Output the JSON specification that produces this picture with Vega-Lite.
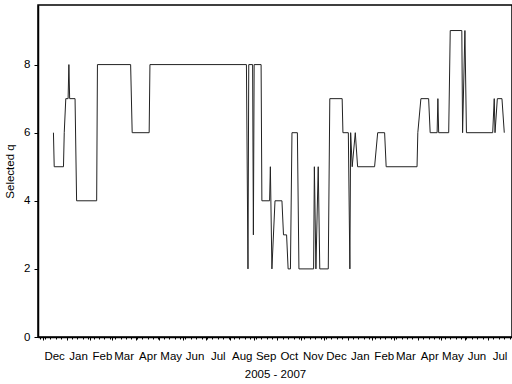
{
  "$schema": "https://vega.github.io/schema/vega-lite/v6.json",
  "width": 474,
  "height": 332,
  "autosize": {"type": "none"},
  "padding": {"left": 38, "top": 5, "right": 0, "bottom": 47},
  "background": "white",
  "config": {
    "view": {"stroke": "black", "strokeWidth": 1.5},
    "font": "Liberation Sans",
    "axis": {
      "labelFont": "Liberation Sans",
      "titleFont": "Liberation Sans",
      "labelColor": "black",
      "titleColor": "black",
      "labelFontSize": 11.5,
      "titleFontSize": 11.5,
      "titleFontWeight": "normal",
      "domainColor": "black",
      "tickColor": "black",
      "grid": false
    }
  },
  "data": {
    "values": [
      {"date": "2005-12-15", "q": 6},
      {"date": "2005-12-16", "q": 5},
      {"date": "2005-12-28", "q": 5},
      {"date": "2005-12-29", "q": 6},
      {"date": "2005-12-31", "q": 7},
      {"date": "2006-01-03", "q": 7},
      {"date": "2006-01-04", "q": 8},
      {"date": "2006-01-05", "q": 7},
      {"date": "2006-01-12", "q": 7},
      {"date": "2006-01-14", "q": 4},
      {"date": "2006-02-09", "q": 4},
      {"date": "2006-02-10", "q": 8},
      {"date": "2006-03-25", "q": 8},
      {"date": "2006-03-27", "q": 6},
      {"date": "2006-04-18", "q": 6},
      {"date": "2006-04-19", "q": 8},
      {"date": "2006-08-22", "q": 8},
      {"date": "2006-08-24", "q": 2},
      {"date": "2006-08-25", "q": 8},
      {"date": "2006-08-30", "q": 8},
      {"date": "2006-08-31", "q": 3},
      {"date": "2006-09-01", "q": 8},
      {"date": "2006-09-10", "q": 8},
      {"date": "2006-09-11", "q": 4},
      {"date": "2006-09-21", "q": 4},
      {"date": "2006-09-22", "q": 5},
      {"date": "2006-09-24", "q": 2},
      {"date": "2006-09-28", "q": 4},
      {"date": "2006-10-07", "q": 4},
      {"date": "2006-10-09", "q": 3},
      {"date": "2006-10-13", "q": 3},
      {"date": "2006-10-15", "q": 2},
      {"date": "2006-10-18", "q": 2},
      {"date": "2006-10-20", "q": 6},
      {"date": "2006-10-27", "q": 6},
      {"date": "2006-10-29", "q": 2},
      {"date": "2006-11-17", "q": 2},
      {"date": "2006-11-18", "q": 5},
      {"date": "2006-11-20", "q": 2},
      {"date": "2006-11-23", "q": 5},
      {"date": "2006-11-25", "q": 2},
      {"date": "2006-12-06", "q": 2},
      {"date": "2006-12-08", "q": 7},
      {"date": "2006-12-24", "q": 7},
      {"date": "2006-12-25", "q": 6},
      {"date": "2007-01-01", "q": 6},
      {"date": "2007-01-03", "q": 2},
      {"date": "2007-01-04", "q": 6},
      {"date": "2007-01-06", "q": 5},
      {"date": "2007-01-10", "q": 6},
      {"date": "2007-01-13", "q": 5},
      {"date": "2007-02-04", "q": 5},
      {"date": "2007-02-08", "q": 6},
      {"date": "2007-02-17", "q": 6},
      {"date": "2007-02-19", "q": 5},
      {"date": "2007-03-31", "q": 5},
      {"date": "2007-04-01", "q": 6},
      {"date": "2007-04-05", "q": 7},
      {"date": "2007-04-15", "q": 7},
      {"date": "2007-04-17", "q": 6},
      {"date": "2007-04-26", "q": 6},
      {"date": "2007-04-27", "q": 7},
      {"date": "2007-04-28", "q": 6},
      {"date": "2007-05-11", "q": 6},
      {"date": "2007-05-13", "q": 9},
      {"date": "2007-05-28", "q": 9},
      {"date": "2007-05-29", "q": 6},
      {"date": "2007-06-01", "q": 9},
      {"date": "2007-06-03", "q": 6},
      {"date": "2007-07-07", "q": 6},
      {"date": "2007-07-09", "q": 7},
      {"date": "2007-07-10", "q": 6},
      {"date": "2007-07-13", "q": 7},
      {"date": "2007-07-19", "q": 7},
      {"date": "2007-07-22", "q": 6}
    ]
  },
  "resolve": {"axis": {"x": "independent"}},
  "layer": [
    {
      "mark": {"type": "line", "color": "#222222", "strokeWidth": 1},
      "encoding": {
        "x": {
          "field": "date",
          "type": "temporal",
          "scale": {
            "type": "utc",
            "domain": [
              {"year": 2005, "month": 11, "date": 25, "utc": true},
              {"year": 2007, "month": 8, "date": 1, "utc": true}
            ],
            "nice": false
          },
          "axis": {
            "orient": "bottom",
            "title": "2005 - 2007",
            "format": "%b",
            "tickCount": {"interval": "month", "step": 1},
            "labelExpr": "datum.value >= utc(2007, 6, 15) ? '' : datum.label",
            "labelOffset": 11.5,
            "labelPadding": 10,
            "labelOverlap": false,
            "labelFlush": false,
            "tickSize": 3,
            "domainWidth": 1.5,
            "titlePadding": 7
          }
        },
        "y": {
          "field": "q",
          "type": "quantitative",
          "scale": {"domain": [0, 9.75], "nice": false},
          "axis": {
            "title": "Selected q",
            "values": [0, 1, 2, 3, 4, 5, 6, 7, 8, 9],
            "labelExpr": "datum.value % 2 == 0 ? datum.label : ''",
            "tickSize": 4,
            "labelPadding": 4,
            "domainWidth": 1.5,
            "titlePadding": 8
          }
        }
      }
    },
    {
      "mark": {"type": "point", "opacity": 0},
      "encoding": {
        "x": {
          "field": "date",
          "type": "temporal",
          "axis": {
            "orient": "bottom",
            "title": null,
            "labels": false,
            "domain": false,
            "tickCount": {"interval": "week", "step": 1},
            "tickSize": 2
          }
        },
        "y": {"field": "q", "type": "quantitative"}
      }
    }
  ]
}
